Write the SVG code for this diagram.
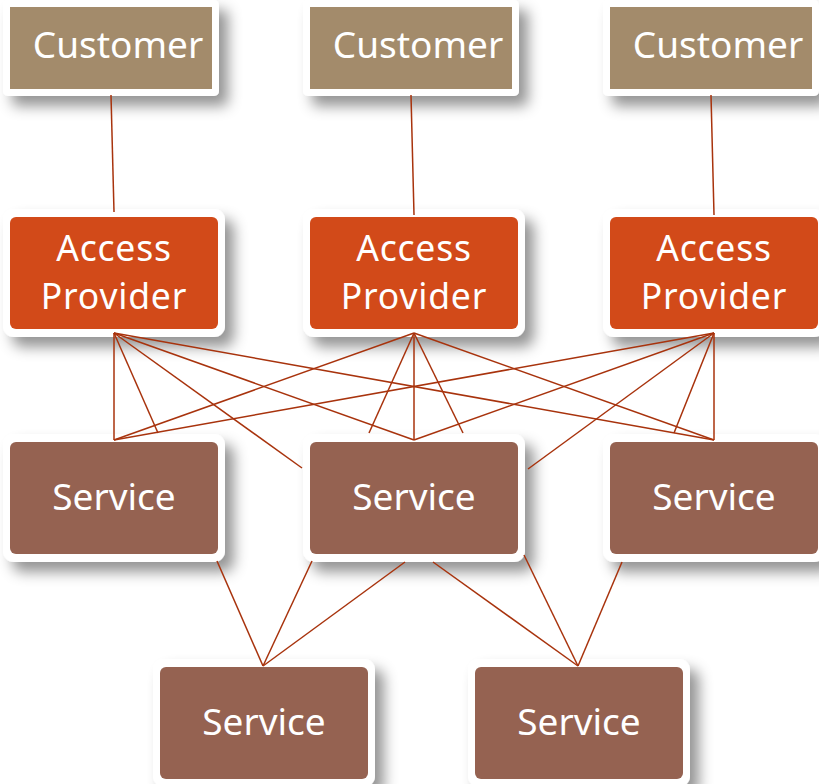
<svg xmlns="http://www.w3.org/2000/svg" width="819" height="784" viewBox="0 0 819 784">
<defs>
<filter id="sh" x="-20%" y="-25%" width="160%" height="180%">
<feDropShadow dx="9" dy="10" stdDeviation="7" flood-color="#000" flood-opacity="0.42"/>
</filter>
<style>
.frame{fill:#fff;filter:url(#sh)}
.cust{fill:#A38B6B}
.ap{fill:#D24A19}
.svc{fill:#956251}
.t{font-family:"Noto Sans","Open Sans",sans-serif;font-size:37px;fill:#fff;text-anchor:middle}
.t2{font-family:"Noto Sans","Open Sans",sans-serif;font-size:35.5px;letter-spacing:0.8px;fill:#fff;text-anchor:middle}
.c line{stroke:#A8330D;stroke-width:1.5;fill:none}
</style>
</defs>
<rect width="819" height="784" fill="#fff"/>

<g id="customer1"><rect class="frame" x="3" y="0" width="216" height="96" rx="5"/><rect class="cust" x="10" y="7" width="202" height="82"/><text class="t" x="118" y="58">Customer</text></g>
<g id="customer2"><rect class="frame" x="303" y="0" width="216" height="96" rx="5"/><rect class="cust" x="310" y="7" width="202" height="82"/><text class="t" x="418" y="58">Customer</text></g>
<g id="customer3"><rect class="frame" x="603" y="0" width="216" height="96" rx="5"/><rect class="cust" x="610" y="7" width="202" height="82"/><text class="t" x="718" y="58">Customer</text></g>

<g id="access1"><rect class="frame" x="3" y="209" width="222" height="128" rx="11"/><rect class="ap" x="10" y="217" width="208" height="112" rx="6"/><text class="t2" x="114" y="260.5">Access</text><text class="t2" x="114" y="309">Provider</text></g>
<g id="access2"><rect class="frame" x="303" y="209" width="222" height="128" rx="11"/><rect class="ap" x="310" y="217" width="208" height="112" rx="6"/><text class="t2" x="414" y="260.5">Access</text><text class="t2" x="414" y="309">Provider</text></g>
<g id="access3"><rect class="frame" x="603" y="209" width="222" height="128" rx="11"/><rect class="ap" x="610" y="217" width="208" height="112" rx="6"/><text class="t2" x="714" y="260.5">Access</text><text class="t2" x="714" y="309">Provider</text></g>

<g id="service1"><rect class="frame" x="3" y="434" width="222" height="128" rx="11"/><rect class="svc" x="10" y="442" width="208" height="112" rx="6"/><text class="t" x="114" y="510">Service</text></g>
<g id="service2"><rect class="frame" x="303" y="434" width="222" height="128" rx="11"/><rect class="svc" x="310" y="442" width="208" height="112" rx="6"/><text class="t" x="414" y="510">Service</text></g>
<g id="service3"><rect class="frame" x="603" y="434" width="222" height="128" rx="11"/><rect class="svc" x="610" y="442" width="208" height="112" rx="6"/><text class="t" x="714" y="510">Service</text></g>
<g id="service4"><rect class="frame" x="153" y="659" width="222" height="128" rx="11"/><rect class="svc" x="160" y="667" width="208" height="112" rx="6"/><text class="t" x="264" y="735">Service</text></g>
<g id="service5"><rect class="frame" x="468" y="659" width="222" height="128" rx="11"/><rect class="svc" x="475" y="667" width="208" height="112" rx="6"/><text class="t" x="579" y="735">Service</text></g>

<g id="connectors" class="c">
<line x1="111" y1="95" x2="114" y2="212"/>
<line x1="411" y1="95" x2="414" y2="215"/>
<line x1="711" y1="95" x2="714" y2="215"/>

<line x1="114" y1="333" x2="114" y2="440"/>
<line x1="114" y1="333" x2="158" y2="433"/>
<line x1="114" y1="333" x2="302" y2="468"/>
<line x1="114" y1="333" x2="414" y2="440"/>
<line x1="114" y1="333" x2="714" y2="440"/>

<line x1="414" y1="333" x2="114" y2="440"/>
<line x1="414" y1="333" x2="369" y2="433"/>
<line x1="414" y1="333" x2="414" y2="440"/>
<line x1="414" y1="333" x2="463" y2="433"/>
<line x1="414" y1="333" x2="714" y2="440"/>

<line x1="714" y1="333" x2="114" y2="440"/>
<line x1="714" y1="333" x2="414" y2="440"/>
<line x1="714" y1="333" x2="528" y2="469"/>
<line x1="714" y1="333" x2="674" y2="433"/>
<line x1="714" y1="333" x2="714" y2="440"/>

<line x1="217" y1="561" x2="263" y2="666"/>
<line x1="312" y1="561" x2="263" y2="666"/>
<line x1="405" y1="562" x2="263" y2="666"/>
<line x1="433" y1="562" x2="578" y2="666"/>
<line x1="524" y1="555" x2="578" y2="666"/>
<line x1="622" y1="562" x2="578" y2="666"/>
</g>
</svg>
